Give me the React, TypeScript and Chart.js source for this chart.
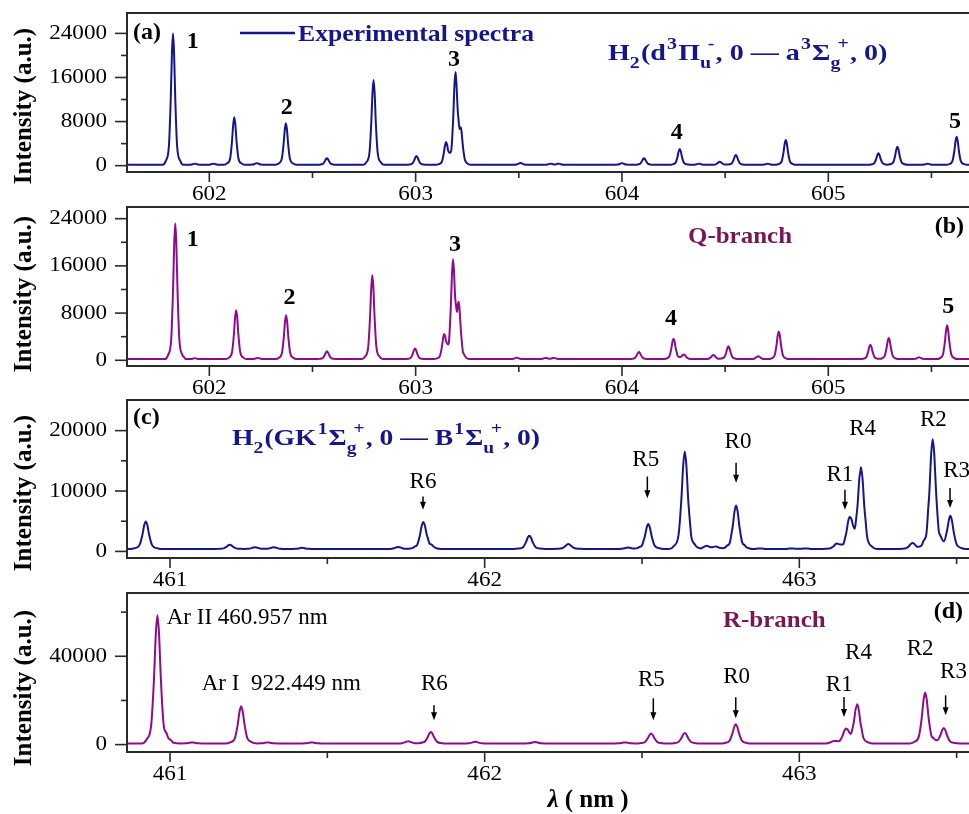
import React, { useEffect, useRef } from "react";
import { Chart, registerables } from "chart.js";

Chart.register(...registerables);

// ---------------- DATA ----------------
// Panel (a): experimental spectrum 601.6 – 605.7 nm (peak wavelength, peak intensity)
const waveA = [601.824, 601.93, 602.02, 602.121, 602.23, 602.371, 602.57, 602.796, 603.004, 603.147, 603.193, 603.219, 603.508, 603.654, 603.693, 604.0, 604.107, 604.28, 604.373, 604.474, 604.552, 604.706, 604.794, 605.243, 605.335, 605.481, 605.622];
const intA = [24000, 350, 350, 8770, 450, 7690, 1340, 15530, 1760, 4170, 16440, 5400, 500, 350, 350, 450, 1340, 3030, 350, 720, 1940, 350, 4660, 2250, 3440, 350, 5260];
const baseA = 150;

// Panel (b): Q-branch simulation
const waveB = [601.835, 601.93, 602.13, 602.235, 602.372, 602.57, 602.79, 602.997, 603.138, 603.181, 603.209, 603.49, 603.63, 603.67, 604.082, 604.25, 604.3, 604.443, 604.516, 604.66, 604.76, 605.204, 605.293, 605.44, 605.576];
const intB = [23170, 350, 8470, 400, 7630, 1525, 14400, 1980, 4240, 16390, 8600, 450, 400, 400, 1410, 3670, 1000, 900, 2370, 700, 4900, 2650, 3780, 500, 5930];
const baseB = 200;

// Panel (c): experimental spectrum 460.86 – 463.6 nm
const waveC = [460.923, 461.19, 461.27, 461.33, 461.42, 461.725, 461.805, 461.83, 462.142, 462.266, 462.456, 462.52, 462.636, 462.705, 462.735, 462.799, 462.875, 462.975, 463.02, 463.119, 463.16, 463.196, 463.36, 463.424, 463.48];
const intC = [4960, 1100, 700, 700, 600, 750, 4860, 700, 2600, 1220, 650, 4530, 16530, 900, 800, 7600, 500, 500, 500, 1220, 5350, 13780, 1400, 18580, 5900];
const baseC = 400;

// Panel (d): R-branch simulation
const waveD = [460.96, 461.0, 461.07, 461.226, 461.31, 461.45, 461.757, 461.829, 461.97, 462.16, 462.446, 462.529, 462.636, 462.798, 463.11, 463.148, 463.184, 463.4, 463.459];
const intD = [58560, 1200, 1000, 17350, 1000, 1000, 1500, 5700, 1300, 1200, 1000, 4980, 5250, 9190, 1500, 6790, 18110, 23550, 7520];
const baseD = 500;

// Axis ticks
const xMajorAB = [602, 603, 604, 605];
const xMinorAB = [602.5, 603.5, 604.5, 605.5];
const xMajorCD = [461, 462, 463];
const xMinorCD = [461.5, 462.5, 463.5];
const yMajorAB = [0, 8000, 16000, 24000];
const yMinorAB = [4000, 12000, 20000];
const yMajorC = [0, 10000, 20000];
const yMinorC = [5000, 15000];
const yMajorD = [0, 40000];
const yMinorD = [20000, 60000];

// Peak number labels [text, wavelength, intensity]
const numLabelsA: [string, number, number][] = [["1", 601.92, 22500], ["2", 602.375, 10500], ["3", 603.186, 19200], ["4", 604.265, 5900], ["5", 605.614, 8000]];
const numLabelsB: [string, number, number][] = [["1", 601.92, 20340], ["2", 602.388, 10560], ["3", 603.191, 19490], ["4", 604.238, 7070], ["5", 605.582, 9030]];

// Line labels [text, labelX, labelY, arrowX, arrowFromY, arrowToY] (arrowX null = no arrow)
const lineLabelsC: [string, number, number, number | null, number, number][] = [
  ["R6", 461.804, 11570, 461.804, 9090, 6890],
  ["R5", 462.512, 15160, 462.517, 12400, 8820],
  ["R0", 462.805, 18180, 462.799, 14660, 11355],
  ["R1", 463.129, 12680, 463.145, 10200, 6890],
  ["R4", 463.201, 20230, null, 0, 0],
  ["R2", 463.426, 21770, null, 0, 0],
  ["R3", 463.5, 13390, 463.479, 10480, 7170],
];
const lineLabelsD: [string, number, number, number | null, number, number][] = [
  ["R6", 461.84, 27310, 461.839, 17800, 11000],
  ["R5", 462.53, 29120, 462.536, 20970, 11000],
  ["R0", 462.801, 30620, 462.798, 21420, 11910],
  ["R1", 463.127, 26860, 463.142, 21560, 12500],
  ["R4", 463.188, 41490, null, 0, 0],
  ["R2", 463.384, 43480, null, 0, 0],
  ["R3", 463.49, 32880, 463.465, 22330, 13270],
];

// ---------------- STYLE ----------------
const CW = 990;
const CH = 814;
const PLOT_LEFT = 127;
const PLOT_RIGHT = 982;
const BLUE = "#16168c";
const PURPLE = "#8c0c8c";
const MAROON = "#7a1650";
const FRAME = "#2a2a2a";
const SERIF = '"Liberation Serif", "Times New Roman", serif';
const TICK_FONT = `21px ${SERIF}`;
const TICK_STRETCH = 1.1;

// line-shape template used to draw each read peak
const PROFILE_OFFSETS = [-0.05, -0.035, -0.02, -0.011, -0.005, 0, 0.005, 0.011, 0.02, 0.035, 0.05];
const PROFILE_SHAPE = [0, 0.03, 0.14, 0.5, 0.86, 1, 0.86, 0.5, 0.14, 0.03, 0];

function shapeAt(d: number): number {
  if (d <= PROFILE_OFFSETS[0] || d >= PROFILE_OFFSETS[PROFILE_OFFSETS.length - 1]) return 0;
  for (let i = 0; i < PROFILE_OFFSETS.length - 1; i++) {
    const a = PROFILE_OFFSETS[i], b = PROFILE_OFFSETS[i + 1];
    if (d >= a && d <= b) {
      const t = (d - a) / (b - a);
      return PROFILE_SHAPE[i] + t * (PROFILE_SHAPE[i + 1] - PROFILE_SHAPE[i]);
    }
  }
  return 0;
}

function buildSpectrum(waves: number[], ints: number[], base: number, xmin: number, xmax: number) {
  const set = new Set<number>([xmin, xmax]);
  waves.forEach((w) => PROFILE_OFFSETS.forEach((o) => set.add(+(w + o).toFixed(4))));
  const xs = [...set].filter((x) => x >= xmin && x <= xmax).sort((a, b) => a - b);
  return xs.map((x) => {
    let y = base;
    waves.forEach((w, i) => {
      y += (ints[i] - base) * shapeAt(x - w);
    });
    return { x, y };
  });
}

type Seg = { t: string; k: "n" | "sup" | "sub" | "ss"; t2?: string };
const titleA: Seg[] = [
  { t: "H", k: "n" }, { t: "2", k: "sub" }, { t: "(d", k: "n" }, { t: "3", k: "sup" }, { t: "Π", k: "n" },
  { t: "u", k: "ss", t2: "-" }, { t: ", 0 — a", k: "n" }, { t: "3", k: "sup" }, { t: "Σ", k: "n" },
  { t: "g", k: "ss", t2: "+" }, { t: ", 0)", k: "n" },
];
const titleC: Seg[] = [
  { t: "H", k: "n" }, { t: "2", k: "sub" }, { t: "(GK", k: "n" }, { t: "1", k: "sup" }, { t: "Σ", k: "n" },
  { t: "g", k: "ss", t2: "+" }, { t: ", 0 — B", k: "n" }, { t: "1", k: "sup" }, { t: "Σ", k: "n" },
  { t: "u", k: "ss", t2: "+" }, { t: ", 0)", k: "n" },
];

function txt(ctx: CanvasRenderingContext2D, s: string, x: number, y: number, font: string, color: string,
  align: CanvasTextAlign = "center", baseline: CanvasTextBaseline = "middle", stretch = 1) {
  ctx.save();
  ctx.font = font;
  ctx.fillStyle = color;
  ctx.textAlign = align;
  ctx.textBaseline = baseline;
  ctx.translate(x, y);
  ctx.scale(stretch, 1);
  ctx.fillText(s, 0, 0);
  ctx.restore();
}

function rich(ctx: CanvasRenderingContext2D, segs: Seg[], x: number, baseY: number, size: number, color: string, stretch = 1) {
  ctx.save();
  ctx.translate(x, baseY);
  ctx.scale(stretch, 1);
  const big = `bold ${size}px ${SERIF}`;
  const small = `bold ${Math.round(size * 0.72)}px ${SERIF}`;
  ctx.fillStyle = color;
  ctx.textAlign = "left";
  ctx.textBaseline = "alphabetic";
  let cx = 0;
  const supY = -size * 0.45;
  const subY = size * 0.32;
  for (const s of segs) {
    if (s.k === "n") {
      ctx.font = big;
      ctx.fillText(s.t, cx, 0);
      cx += ctx.measureText(s.t).width;
    } else if (s.k === "sup") {
      ctx.font = small;
      ctx.fillText(s.t, cx + 1, supY);
      cx += ctx.measureText(s.t).width + 2;
    } else if (s.k === "sub") {
      ctx.font = small;
      ctx.fillText(s.t, cx, subY);
      cx += ctx.measureText(s.t).width + 1;
    } else {
      ctx.font = small;
      const w1 = ctx.measureText(s.t).width;
      ctx.fillText(s.t, cx, subY);
      const w2 = ctx.measureText(s.t2 || "").width;
      ctx.fillText(s.t2 || "", cx + w1 * 0.7, supY);
      cx += Math.max(w1, w1 * 0.7 + w2) + 1;
    }
  }
  ctx.restore();
}

function arrow(ctx: CanvasRenderingContext2D, x: number, y1: number, y2: number) {
  ctx.save();
  ctx.strokeStyle = "#000";
  ctx.fillStyle = "#000";
  ctx.lineWidth = 1.5;
  ctx.beginPath();
  ctx.moveTo(x, y1);
  ctx.lineTo(x, y2 - 6);
  ctx.stroke();
  ctx.beginPath();
  ctx.moveTo(x - 3, y2 - 8);
  ctx.lineTo(x + 3, y2 - 8);
  ctx.lineTo(x, y2);
  ctx.closePath();
  ctx.fill();
  ctx.restore();
}

type PanelCfg = {
  id: string;
  waves: number[];
  ints: number[];
  base: number;
  color: string;
  xMin: number;
  xMax: number;
  yMin: number;
  yMax: number;
  top: number;
  bottom: number;
  xMajor: number[];
  xMinor: number[];
  yMajor: number[];
  yMinor: number[];
  yTitleY: number;
  extra: (ctx: CanvasRenderingContext2D, xs: any, ys: any) => void;
};

const panels: PanelCfg[] = [
  {
    id: "a", waves: waveA, ints: intA, base: baseA, color: BLUE,
    xMin: 601.601, xMax: 605.745, yMin: -1150, yMax: 27700, top: 13, bottom: 172,
    xMajor: xMajorAB, xMinor: xMinorAB, yMajor: yMajorAB, yMinor: yMinorAB, yTitleY: 106,
    extra: (ctx, xs, ys) => {
      txt(ctx, "(a)", 133, 33, `bold 24px ${SERIF}`, "#000", "left");
      ctx.save();
      ctx.strokeStyle = BLUE;
      ctx.lineWidth = 2.5;
      ctx.beginPath();
      ctx.moveTo(240, 33);
      ctx.lineTo(295, 33);
      ctx.stroke();
      ctx.restore();
      txt(ctx, "Experimental spectra", 298, 41, `bold 24px ${SERIF}`, BLUE, "left", "alphabetic", 1.07);
      rich(ctx, titleA, 608, 60, 24, BLUE, 1.17);
      numLabelsA.forEach(([t, x, y]) => txt(ctx, t, xs.getPixelForValue(x), ys.getPixelForValue(y), `bold 24px ${SERIF}`, "#000"));
    },
  },
  {
    id: "b", waves: waveB, ints: intB, base: baseB, color: PURPLE,
    xMin: 601.601, xMax: 605.745, yMin: -966, yMax: 25980, top: 207, bottom: 366,
    xMajor: xMajorAB, xMinor: xMinorAB, yMajor: yMajorAB, yMinor: yMinorAB, yTitleY: 294,
    extra: (ctx, xs, ys) => {
      txt(ctx, "(b)", 964, 227, `bold 24px ${SERIF}`, "#000", "right");
      txt(ctx, "Q-branch", 688, 243, `bold 24px ${SERIF}`, MAROON, "left", "alphabetic", 1.04);
      numLabelsB.forEach(([t, x, y]) => txt(ctx, t, xs.getPixelForValue(x), ys.getPixelForValue(y), `bold 24px ${SERIF}`, "#000"));
    },
  },
  {
    id: "c", waves: waveC, ints: intC, base: baseC, color: BLUE,
    xMin: 460.8633, xMax: 463.5806, yMin: -1090, yMax: 25070, top: 400, bottom: 558,
    xMajor: xMajorCD, xMinor: xMinorCD, yMajor: yMajorC, yMinor: yMinorC, yTitleY: 493,
    extra: (ctx, xs, ys) => {
      txt(ctx, "(c)", 133, 418, `bold 24px ${SERIF}`, "#000", "left");
      rich(ctx, titleC, 232, 445, 24, BLUE, 1.15);
      lineLabelsC.forEach(([t, lx, ly, ax, a1, a2]) => {
        txt(ctx, t, xs.getPixelForValue(lx), ys.getPixelForValue(ly), `23px ${SERIF}`, "#000");
        if (ax !== null) arrow(ctx, xs.getPixelForValue(ax), ys.getPixelForValue(a1), ys.getPixelForValue(a2));
      });
    },
  },
  {
    id: "d", waves: waveD, ints: intD, base: baseD, color: PURPLE,
    xMin: 460.8633, xMax: 463.5806, yMin: -3350, yMax: 68660, top: 593, bottom: 752,
    xMajor: xMajorCD, xMinor: xMinorCD, yMajor: yMajorD, yMinor: yMinorD, yTitleY: 688,
    extra: (ctx, xs, ys) => {
      txt(ctx, "(d)", 963, 612, `bold 24px ${SERIF}`, "#000", "right");
      txt(ctx, "R-branch", 723, 627, `bold 24px ${SERIF}`, MAROON, "left", "alphabetic", 1.04);
      txt(ctx, "Ar II 460.957 nm", xs.getPixelForValue(460.9895), ys.getPixelForValue(54800), `23px ${SERIF}`, "#000", "left", "alphabetic");
      txt(ctx, "Ar I  922.449 nm", xs.getPixelForValue(461.1007), ys.getPixelForValue(24590), `23px ${SERIF}`, "#000", "left", "alphabetic");
      lineLabelsD.forEach(([t, lx, ly, ax, a1, a2]) => {
        txt(ctx, t, xs.getPixelForValue(lx), ys.getPixelForValue(ly), `23px ${SERIF}`, "#000");
        if (ax !== null) arrow(ctx, xs.getPixelForValue(ax), ys.getPixelForValue(a1), ys.getPixelForValue(a2));
      });
      // x-axis title
      ctx.save();
      ctx.textBaseline = "middle";
      ctx.textAlign = "left";
      ctx.fillStyle = "#000";
      ctx.font = `italic bold 25px ${SERIF}`;
      const lam = "λ";
      const rest = " ( nm )";
      const w1 = ctx.measureText(lam).width;
      ctx.font = `bold 25px ${SERIF}`;
      const w2 = ctx.measureText(rest).width;
      const x0 = 588 - (w1 + w2) / 2;
      ctx.font = `italic bold 25px ${SERIF}`;
      ctx.fillText(lam, x0, 801);
      ctx.font = `bold 25px ${SERIF}`;
      ctx.fillText(rest, x0 + w1, 801);
      ctx.restore();
    },
  },
];

function makePlugin(cfg: PanelCfg) {
  return {
    id: "panel-" + cfg.id,
    afterDraw(chart: any) {
      const ctx: CanvasRenderingContext2D = chart.ctx;
      const a = chart.chartArea;
      const xs = chart.scales.x;
      const ys = chart.scales.y;
      ctx.save();
      ctx.strokeStyle = FRAME;
      ctx.lineWidth = 2;
      ctx.strokeRect(a.left, a.top, a.right - a.left, a.bottom - a.top);
      ctx.lineWidth = 1.6;
      const seg = (x1: number, y1: number, x2: number, y2: number) => {
        ctx.beginPath();
        ctx.moveTo(x1, y1);
        ctx.lineTo(x2, y2);
        ctx.stroke();
      };
      cfg.xMajor.forEach((v) => {
        const p = xs.getPixelForValue(v);
        seg(p, a.bottom, p, a.bottom + 10);
        txt(ctx, String(v), p, a.bottom + 22, TICK_FONT, "#000", "center", "middle", TICK_STRETCH);
      });
      cfg.xMinor.forEach((v) => {
        const p = xs.getPixelForValue(v);
        if (p <= a.right) seg(p, a.bottom, p, a.bottom + 6);
      });
      cfg.yMajor.forEach((v) => {
        const p = ys.getPixelForValue(v);
        seg(a.left - 12, p, a.left, p);
        txt(ctx, String(v), a.left - 20, p, TICK_FONT, "#000", "right", "middle", TICK_STRETCH);
      });
      cfg.yMinor.forEach((v) => {
        const p = ys.getPixelForValue(v);
        seg(a.left - 6, p, a.left, p);
      });
      // y title
      ctx.save();
      ctx.translate(25, cfg.yTitleY);
      ctx.rotate(-Math.PI / 2);
      ctx.font = `bold 25px ${SERIF}`;
      ctx.fillStyle = "#000";
      ctx.textAlign = "center";
      ctx.textBaseline = "middle";
      ctx.fillText("Intensity (a.u.)", 0, 0);
      ctx.restore();
      cfg.extra(ctx, xs, ys);
      ctx.restore();
    },
  };
}

function Panel({ cfg }: { cfg: PanelCfg }) {
  const ref = useRef<HTMLCanvasElement | null>(null);
  useEffect(() => {
    if (!ref.current) return;
    const points = buildSpectrum(cfg.waves, cfg.ints, cfg.base, cfg.xMin, cfg.xMax);
    const chart = new Chart(ref.current, {
      type: "line",
      data: {
        datasets: [
          {
            data: points,
            borderColor: cfg.color,
            borderWidth: 2,
            pointRadius: 0,
            fill: false,
            cubicInterpolationMode: "monotone",
          },
        ],
      },
      options: {
        animation: false,
        responsive: false,
        maintainAspectRatio: false,
        events: [],
        layout: { padding: { left: 0, top: cfg.top, right: CW - PLOT_RIGHT, bottom: 0 } },
        plugins: { legend: { display: false }, tooltip: { enabled: false } },
        scales: {
          x: {
            type: "linear",
            min: cfg.xMin,
            max: cfg.xMax,
            grid: { display: false },
            border: { display: false },
            ticks: { display: false },
            afterFit: (s: any) => {
              s.height = CH - cfg.bottom;
            },
          },
          y: {
            type: "linear",
            min: cfg.yMin,
            max: cfg.yMax,
            grid: { display: false },
            border: { display: false },
            ticks: { display: false },
            afterFit: (s: any) => {
              s.width = PLOT_LEFT;
            },
          },
        },
      } as any,
      plugins: [makePlugin(cfg)],
    });
    return () => chart.destroy();
  }, [cfg]);
  return (
    <canvas
      ref={ref}
      width={CW}
      height={CH}
      style={{ position: "absolute", left: 0, top: 0, width: CW, height: CH }}
    />
  );
}

export default function App() {
  return (
    <div
      style={{
        position: "absolute",
        left: 0,
        top: 0,
        width: 969,
        height: 814,
        overflow: "hidden",
        background: "#fff",
      }}
    >
      {panels.map((p) => (
        <Panel key={p.id} cfg={p} />
      ))}
    </div>
  );
}
